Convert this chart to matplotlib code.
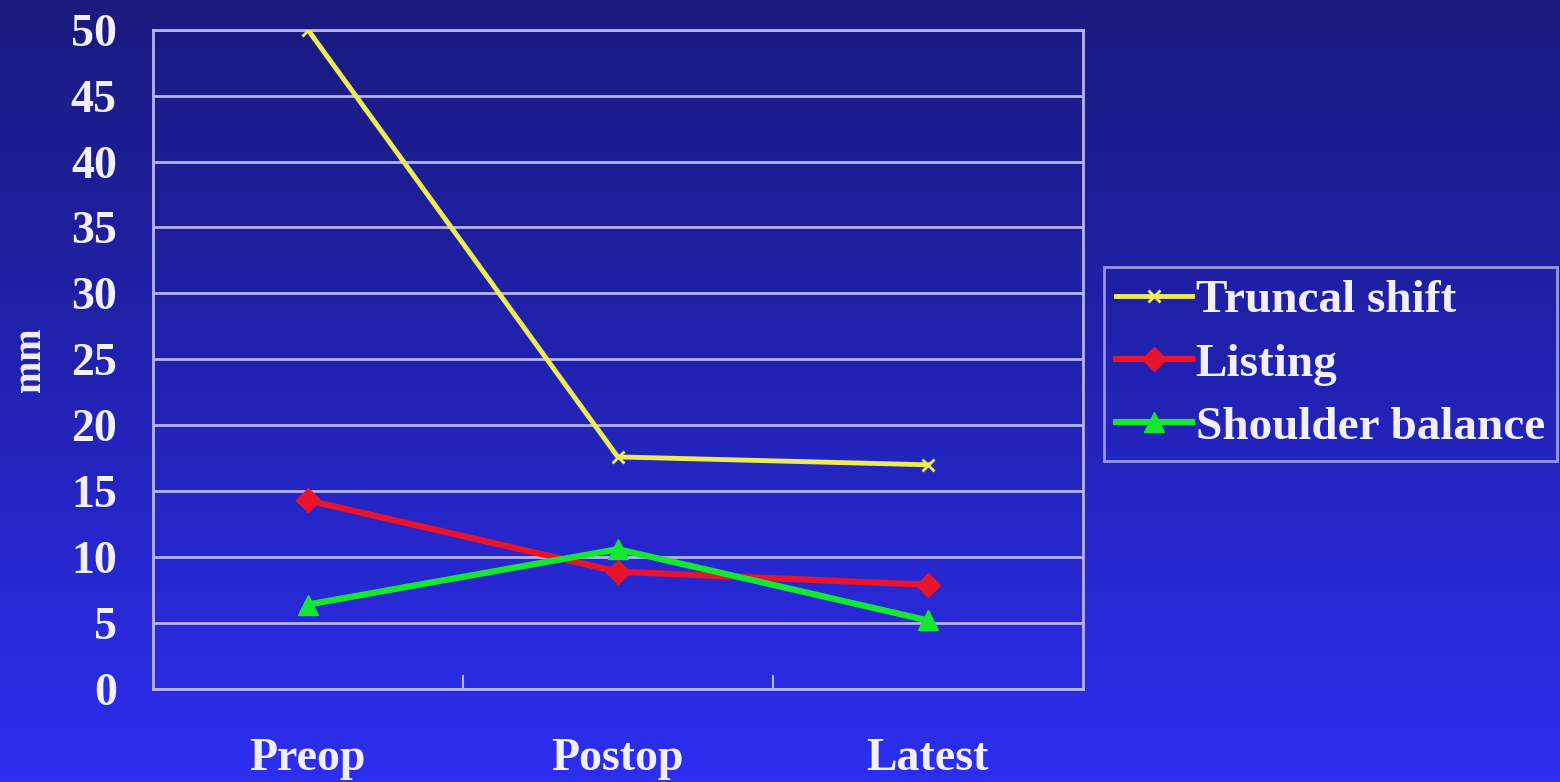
import matplotlib.pyplot as plt
import numpy as np
from matplotlib.colors import LinearSegmentedColormap

stages = ["Preop", "Postop", "Latest"]
truncal_shift = [50.0, 17.6, 17.0]
listing = [14.3, 8.9, 7.9]
shoulder_balance = [6.4, 10.6, 5.2]
y_ticks = [0, 5, 10, 15, 20, 25, 30, 35, 40, 45, 50]

FONT = "Liberation Serif"
FRAME = "#b4b4f0"
TEXT = "#f0f0ff"

fig = plt.figure(figsize=(15.6, 7.82), dpi=100)

# vertical gradient background, dark navy at the top to bright blue at the bottom
bg = fig.add_axes([0, 0, 1, 1], zorder=0)
grad = np.linspace(0, 1, 256).reshape(-1, 1)
cmap = LinearSegmentedColormap.from_list("bg", ["#1a1a7e", "#2222b4", "#2e2ef2"])
bg.imshow(grad, aspect="auto", cmap=cmap, extent=[0, 1, 0, 1], origin="upper")
bg.axis("off")

ax = fig.add_axes([0.098, 0.119, 0.596, 0.843], zorder=1)
ax.set_facecolor("none")

x = np.arange(len(stages)) + 0.5
ax.plot(x, truncal_shift, color="#ecec58", lw=3.5, marker="x", ms=9, mew=2,
        label="Truncal shift", zorder=3)
ax.plot(x, listing, color="#e8142e", lw=4.5, marker="D", ms=12,
        label="Listing", zorder=4)
ax.plot(x, shoulder_balance, color="#14e634", lw=4.5, marker="^", ms=15,
        label="Shoulder balance", zorder=5)

ax.set_xlim(0, 3)
ax.set_ylim(0, 50)
ax.set_yticks(y_ticks)
ax.set_xticks([1, 2], minor=False)
ax.set_xticklabels([])
ax.set_xticks(x, minor=True)
ax.set_xticklabels(stages, minor=True)
ax.tick_params(axis="x", which="major", direction="in", length=10, width=1.5, color=FRAME)
ax.tick_params(axis="x", which="minor", length=0, pad=35)
ax.tick_params(axis="y", length=0, pad=26)
for lab in ax.get_yticklabels() + ax.get_xticklabels(minor=True):
    lab.set_fontfamily(FONT)
    lab.set_fontweight("bold")
    lab.set_color(TEXT)
    lab.set_fontsize(33)

ax.yaxis.grid(True, color=FRAME, lw=2)
ax.set_axisbelow(True)
for sp in ax.spines.values():
    sp.set_color(FRAME)
    sp.set_linewidth(2)

ax.set_ylabel("mm", fontfamily=FONT, fontweight="bold", fontsize=28, color=TEXT,
              va="center")
ax.yaxis.set_label_coords(-0.132, 0.5)

leg = fig.legend(loc="upper left", bbox_to_anchor=(0.708, 0.658), frameon=True,
                 prop={"family": FONT, "weight": "bold", "size": 34},
                 handlelength=1.6, handletextpad=0.08, borderpad=0.25,
                 labelspacing=0.43, borderaxespad=0, fancybox=False)
leg.get_frame().set_facecolor("none")
leg.get_frame().set_edgecolor(FRAME)
leg.get_frame().set_linewidth(2)
for t in leg.get_texts():
    t.set_color(TEXT)

fig.savefig("out.png", dpi=100)
